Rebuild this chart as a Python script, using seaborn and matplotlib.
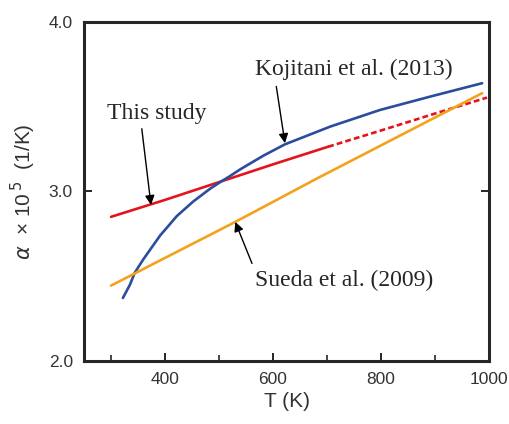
import matplotlib
matplotlib.use("Agg")
import matplotlib.pyplot as plt
import seaborn as sns
from matplotlib.ticker import MultipleLocator, FormatStrFormatter

# values
this_T = [300, 400, 500, 600, 702]
this_a = [2.85, 2.95, 3.055, 3.16, 3.264]
this_ext_T = [702, 800, 900, 996]
this_ext_a = [3.264, 3.36, 3.46, 3.554]

koj_T = [322, 335, 344, 360, 391, 422, 452, 483, 505, 520, 539, 582, 622, 706, 798, 891, 987]
koj_a = [2.371, 2.449, 2.52, 2.60, 2.74, 2.855, 2.94, 3.015, 3.061, 3.09, 3.13,
         3.211, 3.278, 3.383, 3.481, 3.56, 3.639]

sueda_T = [300, 530, 684, 987]
sueda_a = [2.444, 2.82, 3.081, 3.58]

red = "#e3141b"
blue = "#2a4d9e"
orange = "#f4a21c"

sns.set_style("ticks")
plt.rcParams["font.family"] = ["Liberation Sans", "DejaVu Sans"]

fig = plt.figure(figsize=(5.09, 4.24), dpi=100)
ax = fig.add_axes([0.165, 0.149, 0.796, 0.799])

sns.lineplot(x=this_T, y=this_a, color=red, lw=1.9, ax=ax)
sns.lineplot(x=this_ext_T, y=this_ext_a, color=red, lw=1.9, ax=ax, linestyle=(0, (2.2, 1.2)))
sns.lineplot(x=koj_T, y=koj_a, color=blue, lw=1.9, ax=ax)
sns.lineplot(x=sueda_T, y=sueda_a, color=orange, lw=1.9, ax=ax)

ax.set_xlim(250, 1000)
ax.set_ylim(2.0, 4.0)
ax.set_xticks([400, 600, 800, 1000])
ax.xaxis.set_minor_locator(MultipleLocator(100))
ax.yaxis.set_major_locator(MultipleLocator(1.0))
ax.yaxis.set_major_formatter(FormatStrFormatter("%.1f"))

for s in ax.spines.values():
    s.set_linewidth(2.2)
    s.set_visible(True)
ax.tick_params(axis="both", which="major", direction="in", length=6, width=1.2,
               labelsize=12.5, colors="black", labelcolor="#333333")
ax.tick_params(axis="x", which="major", pad=8)
ax.tick_params(axis="y", which="major", pad=8, right=True)
ax.tick_params(axis="x", which="minor", direction="in", length=4, width=1.2)

ax.set_xlabel("T (K)", fontsize=15, color="#333333", labelpad=4)
ax.set_ylabel(r"$\alpha$  × 10$^{\,5}$  (1/K)", fontsize=15, color="#333333", labelpad=8)

serif = ["Liberation Serif", "DejaVu Serif"]
arrow = dict(arrowstyle="-|>", color="black", lw=1.0, mutation_scale=14, shrinkA=0, shrinkB=0)

ax.annotate("", xy=(374, 2.92), xytext=(357, 3.37), arrowprops=arrow)
ax.text(292, 3.46, "This study", fontsize=17, family=serif, va="center", ha="left")

ax.annotate("", xy=(622, 3.285), xytext=(606, 3.62), arrowprops=arrow)
ax.text(566, 3.72, "Kojitani et al. (2013)", fontsize=17, family=serif, va="center", ha="left")

ax.annotate("", xy=(530, 2.82), xytext=(561, 2.575), arrowprops=arrow)
ax.text(566, 2.473, "Sueda et al. (2009)", fontsize=17, family=serif, va="center", ha="left")

fig.savefig("out.png", dpi=100)
